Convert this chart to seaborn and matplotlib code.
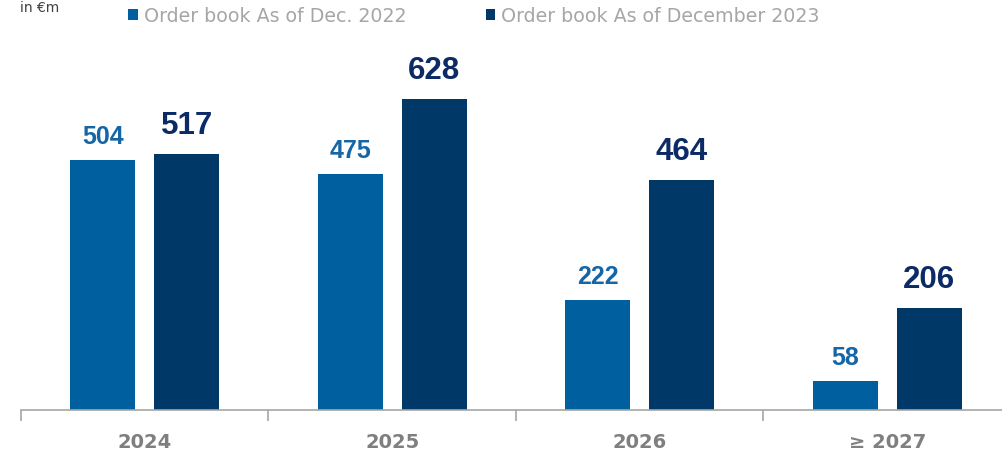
import matplotlib
matplotlib.use("Agg")
import matplotlib.pyplot as plt
import seaborn as sns
import pandas as pd

categories = ["2024", "2025", "2026", "\u2265 2027"]
series_names = ["Order book As of Dec. 2022", "Order book As of December 2023"]
values_2022 = [504, 475, 222, 58]
values_2023 = [517, 628, 464, 206]
unit_label = "in \u20acm"

bar_colors = ["#00609f", "#003868"]
label_colors = ["#1466a6", "#0b2a66"]

df = pd.DataFrame({
    "year": categories * 2,
    "series": [series_names[0]] * 4 + [series_names[1]] * 4,
    "value": values_2022 + values_2023,
})

sns.set_theme(style="white")
plt.rcParams["font.family"] = ["DejaVu Sans"]

W, H = 1003, 451
fig = plt.figure(figsize=(W / 100, H / 100), dpi=100)
ax = fig.add_axes([21 / W, 41 / H, 990 / W, 370 / H])

sns.barplot(data=df, x="year", y="value", hue="series", palette=bar_colors,
            width=0.68, gap=0.225, ax=ax, saturation=1, legend=True,
            edgecolor="none")

ax.set_ylim(0, 746)
ax.set_xlim(-0.5, 3.5)

# value labels
sizes = [18, 22.5]
pads = [8.2, 9.0]
for cont, col, fs, pd_ in zip(ax.containers, label_colors, sizes, pads):
    ax.bar_label(cont, fmt="%d", padding=pd_, color=col, fontsize=fs,
                 fontweight="bold", family="Liberation Sans")

# axes styling
for s in ["top", "right", "left"]:
    ax.spines[s].set_visible(False)
ax.spines["bottom"].set_color("#a6a6a6")
ax.spines["bottom"].set_linewidth(1.2)
ax.set_yticks([])
ax.set_xlabel("")
ax.set_ylabel("")

ax.set_xticks([-0.5, 0.5, 1.5, 2.5, 3.5])
ax.set_xticklabels([])
ax.tick_params(axis="x", which="major", bottom=True, length=8, width=1.2,
               color="#a6a6a6", direction="out")
ax.set_xticks(range(len(categories)), minor=True)
ax.set_xticklabels(categories, minor=True, fontsize=14, fontweight="bold",
                   color="#7f7f7f")
ax.tick_params(axis="x", which="minor", length=0, pad=16.5)

# legend
handles, labels = ax.get_legend_handles_labels()
ax.legend(handles, labels, loc="center", bbox_to_anchor=(474 / W, 1 - 16 / H),
          bbox_transform=fig.transFigure, ncol=2, frameon=False,
          fontsize=13.7, labelcolor="#a6a6a6", handlelength=0.5,
          handleheight=0.5, handletextpad=0.3, columnspacing=4.2)

fig.text(20 / W, 1 - 1 / H, unit_label, fontsize=10, color="#404040",
         va="top", ha="left")

fig.savefig("out.png", dpi=100)
